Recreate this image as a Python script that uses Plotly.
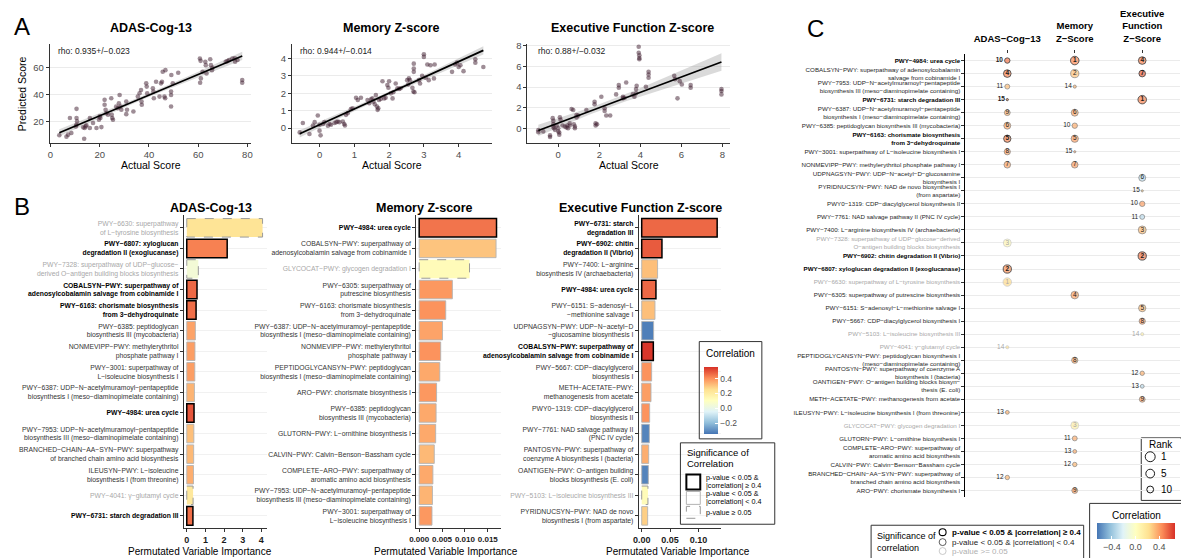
import numpy as np
import plotly.graph_objects as go

W, H = 1181, 558
FONT = "Liberation Sans"


def X(px):
    return px / W


def Y(py):
    return 1 - py / H


# ---------------- Panel A data (actual, predicted) ----------------
adas_points = [(3.6, 9.7), (6.5, 8.7), (7.2, 10.2), (8.5, 11.4), (7.9, 22.5), (10.6, 22.5), (10.8, 20.0), (10.6, 17.5),
               (10.6, 29.3), (10.3, 16.3), (13.3, 15.6), (13.9, 15.1), (14.3, 16.3), (14.6, 17.1), (13.7, 7.2),
               (16.0, 22.5), (16.0, 15.1), (17.3, 18.8), (18.7, 15.1), (19.7, 21.2), (20.0, 23.7), (20.3, 22.5),
               (20.7, 15.8), (22.0, 36.0), (22.0, 32.3), (22.4, 28.6), (22.7, 26.1), (23.4, 24.9), (24.7, 37.2),
               (24.9, 24.9), (25.1, 22.5), (25.4, 21.2), (26.7, 31.0), (27.4, 29.8), (27.8, 33.5), (28.1, 39.6),
               (28.4, 31.0), (28.8, 28.6), (30.8, 34.7), (31.1, 28.6), (30.8, 25.4), (33.7, 27.4), (35.5, 38.4),
               (36.2, 40.9), (36.8, 43.3), (37.0, 34.7), (37.1, 32.3), (38.9, 48.2), (39.1, 45.8), (39.3, 40.9),
               (41.6, 44.5), (41.8, 42.1), (42.0, 37.2), (42.9, 49.4), (44.3, 38.4), (44.9, 48.2), (45.3, 49.4),
               (46.3, 38.4), (46.6, 37.2), (49.0, 42.1), (49.0, 39.6), (49.0, 31.0), (49.1, 54.4), (49.7, 48.2),
               (45.6, 56.8), (46.7, 58.0), (51.9, 56.1), (60.7, 66.6), (61.0, 64.9), (61.1, 51.9), (60.8, 48.7),
               (61.8, 56.8), (62.9, 64.2), (63.1, 61.7), (63.4, 55.6), (64.9, 66.1), (65.2, 61.7), (65.6, 58.0),
               (65.8, 59.8), (71.2, 64.2), (71.9, 64.7), (72.6, 65.5), (73.9, 66.6), (74.9, 66.8), (75.0, 64.2),
               (76.0, 65.5), (77.9, 50.7), (77.9, 48.7)]

memory_points = [(-0.57, -0.25), (-0.48, 0.29), (-0.29, -0.34), (-0.19, 0.15), (-0.14, 0.34), (-0.05, 0.72),
                 (0.0, 0.19), (0.0, -0.15), (0.03, -0.42), (0.10, 0.23), (0.14, 0.34), (0.24, 0.13), (0.29, 0.23),
                 (0.33, 0.19), (0.43, 0.29), (0.48, 0.34), (0.52, 0.38), (0.57, 0.34), (0.67, 0.38), (0.71, 0.23),
                 (0.73, 0.15), (0.76, 0.76), (0.81, 0.86), (0.90, 1.09), (0.95, 1.14), (1.05, 1.75), (1.10, 1.62),
                 (1.19, 1.75), (1.38, 1.62), (1.43, 1.43), (1.48, 1.66), (1.52, 1.71), (1.55, 1.52), (1.59, 1.37),
                 (1.62, 1.90), (1.65, 1.24), (1.67, 1.05), (1.69, 1.14), (1.71, 1.62), (1.76, 1.68), (1.81, 2.70),
                 (1.86, 1.71), (1.90, 1.75), (1.95, 2.48), (1.98, 2.32), (2.0, 2.70), (2.05, 2.0), (2.10, 1.71),
                 (2.12, 2.06), (2.19, 2.57), (2.24, 2.29), (2.29, 2.25), (2.33, 2.29), (2.52, 2.76), (2.55, 2.51),
                 (2.57, 2.86), (2.60, 2.76), (2.67, 2.32), (2.70, 2.10), (2.71, 3.71), (2.71, 3.43), (2.71, 3.24),
                 (2.73, 2.06), (2.86, 2.76), (2.89, 2.57), (2.95, 3.01), (3.0, 4.25), (3.0, 4.10), (3.05, 2.90),
                 (3.10, 3.66), (3.14, 2.76), (3.19, 3.62), (3.29, 2.86), (3.31, 3.66), (3.81, 3.24), (3.90, 3.66),
                 (3.95, 3.77), (4.0, 3.52), (4.05, 3.62), (4.14, 3.28), (4.48, 3.96), (4.48, 3.77), (4.71, 3.52)]

executive_points = [(-0.97, -0.13), (-0.97, -0.32), (-0.73, -0.25), (-0.40, -0.63), (-0.40, -0.79), (-0.27, 1.02),
                    (-0.24, 0.76), (-0.24, 0.44), (-0.24, 0.22), (-0.21, 0.06), (-0.16, -0.10), (-0.08, 0.32),
                    (0.0, 0.06), (0.0, -0.25), (0.05, -0.35), (0.05, -0.57), (0.08, 1.11), (0.11, 0.86),
                    (0.21, 0.32), (0.32, 0.22), (0.40, 0.13), (0.44, 0.32), (0.48, 0.06), (0.56, 0.32),
                    (0.56, 0.54), (0.65, 1.90), (0.73, 1.81), (0.76, 0.44), (0.81, 0.22), (0.81, 0.06),
                    (0.89, 1.33), (0.89, 1.08), (0.97, 1.27), (1.37, 1.81), (1.77, 2.60), (1.77, 2.35),
                    (1.82, 0.54), (1.82, 0.32), (1.89, 0.44), (2.10, 3.08), (2.26, 1.97), (2.26, 1.71),
                    (2.34, 1.27), (2.53, 1.27), (2.82, 3.30), (2.95, 4.19), (2.95, 3.94), (3.15, 3.08),
                    (3.31, 4.44), (3.15, 2.92), (3.23, 2.98), (3.63, 3.30), (3.71, 3.08), (3.79, 3.40),
                    (3.79, 3.81), (3.82, 4.13), (3.92, 7.87), (3.92, 7.30), (3.95, 7.05), (3.95, 6.79),
                    (3.95, 6.67), (4.27, 4.03), (4.40, 5.46), (4.40, 5.21), (4.40, 4.89), (5.65, 5.08),
                    (5.69, 4.76), (5.81, 2.92), (5.92, 4.57), (6.02, 4.25), (6.45, 4.19), (6.45, 3.94),
                    (7.95, 3.81), (7.95, 3.62), (7.95, 3.30)]

a_titles = ["ADAS-Cog-13", "Memory Z-score", "Executive Function Z-score"]
a_rho = ["rho: 0.935+/−0.023", "rho: 0.944+/−0.014", "rho: 0.88+/−0.032"]
a_xticks = [[0, 20, 40, 60, 80], [0, 1, 2, 3, 4], [0, 2, 4, 6, 8]]
a_yticks = [[20, 40, 60], [0, 1, 2, 3, 4], [0, 2, 4, 6, 8]]

# ---------------- Panel B data ----------------
adas_ids = ["PWY-6630", "PWY-6807", "PWY-7328", "COBALSYN-PWY", "PWY-6163", "PWY-6385", "NONMEVIPP-PWY",
            "PWY-3001", "PWY-6387", "PWY-4984", "PWY-7953", "BRANCHED-CHAIN-AA-SYN-PWY", "ILEUSYN-PWY",
            "PWY-4041", "PWY-6731"]
adas_labels = ["PWY-6630: superpathway<br>of L-tyrosine biosynthesis",
               "PWY-6807: xyloglucan<br>degradation II (exoglucanase)",
               "PWY-7328: superpathway of UDP-glucose-<br>derived O-antigen building blocks biosynthesis",
               "COBALSYN-PWY: superpathway of<br>adenosylcobalamin salvage from cobinamide I",
               "PWY-6163: chorismate biosynthesis<br>from 3-dehydroquinate",
               "PWY-6385: peptidoglycan<br>biosynthesis III (mycobacteria)",
               "NONMEVIPP-PWY: methylerythritol<br>phosphate pathway I",
               "PWY-3001: superpathway of<br>L-isoleucine biosynthesis I",
               "PWY-6387: UDP-N-acetylmuramoyl-pentapeptide<br>biosynthesis I (meso-diaminopimelate containing)",
               "PWY-4984: urea cycle",
               "PWY-7953: UDP-N-acetylmuramoyl-pentapeptide<br>biosynthesis III (meso-diaminopimelate containing)",
               "BRANCHED-CHAIN-AA-SYN-PWY: superpathway<br>of branched chain amino acid biosynthesis",
               "ILEUSYN-PWY: L-isoleucine<br>biosynthesis I (from threonine)",
               "PWY-4041: γ-glutamyl cycle",
               "PWY-6731: starch degradation III"]
adas_importance = [4.07, 2.17, 0.62, 0.55, 0.50, 0.46, 0.44, 0.43, 0.41, 0.39, 0.38, 0.37, 0.36, 0.34, 0.33]
adas_corr = [0.23, 0.42, 0.04, 0.46, 0.45, 0.36, 0.37, 0.37, 0.33, 0.49, 0.31, 0.32, 0.34, 0.21, 0.45]
adas_sig = ["ns", "strong", "ns", "strong", "strong", "sig", "sig", "sig", "sig", "strong", "sig", "sig", "sig",
            "ns", "strong"]

memory_ids = ["PWY-4984", "COBALSYN-PWY", "GLYCOCAT-PWY", "PWY-6305", "PWY-6163", "PWY-6387", "NONMEVIPP-PWY",
              "PEPTIDOGLYCANSYN-PWY", "ARO-PWY", "PWY-6385", "GLUTORN-PWY", "CALVIN-PWY", "COMPLETE-ARO-PWY",
              "PWY-7953", "PWY-3001"]
memory_labels = ["PWY-4984: urea cycle",
                 "COBALSYN-PWY: superpathway of<br>adenosylcobalamin salvage from cobinamide I",
                 "GLYCOCAT-PWY: glycogen degradation I",
                 "PWY-6305: superpathway of<br>putrescine biosynthesis",
                 "PWY-6163: chorismate biosynthesis<br>from 3-dehydroquinate",
                 "PWY-6387: UDP-N-acetylmuramoyl-pentapeptide<br>biosynthesis I (meso-diaminopimelate containing)",
                 "NONMEVIPP-PWY: methylerythritol<br>phosphate pathway I",
                 "PEPTIDOGLYCANSYN-PWY: peptidoglycan<br>biosynthesis I (meso-diaminopimelate containing)",
                 "ARO-PWY: chorismate biosynthesis I",
                 "PWY-6385: peptidoglycan<br>biosynthesis III (mycobacteria)",
                 "GLUTORN-PWY: L-ornithine biosynthesis I",
                 "CALVIN-PWY: Calvin-Benson-Bassham cycle",
                 "COMPLETE-ARO-PWY: superpathway of<br>aromatic amino acid biosynthesis",
                 "PWY-7953: UDP-N-acetylmuramoyl-pentapeptide<br>biosynthesis III (meso-diaminopimelate containing)",
                 "PWY-3001: superpathway of<br>L-isoleucine biosynthesis I"]
memory_importance = [0.0169, 0.0168, 0.0110, 0.00725, 0.0058, 0.0051, 0.0047, 0.0045, 0.0038, 0.0037, 0.0036,
                     0.0033, 0.0030, 0.0029, 0.0028]
memory_corr = [0.44, 0.30, 0.12, 0.38, 0.39, 0.36, 0.39, 0.35, 0.38, 0.35, 0.35, 0.32, 0.35, 0.33, 0.38]
memory_sig = ["strong", "sig", "ns", "sig", "sig", "sig", "sig", "sig", "sig", "sig", "sig", "sig", "sig", "sig",
              "sig"]

executive_ids = ["PWY-6731", "PWY-6902", "PWY-7400", "PWY-4984", "PWY-6151", "UDPNAGSYN-PWY", "COBALSYN-PWY",
                 "PWY-5667", "METH-ACETATE-PWY", "PWY0-1319", "PWY-7761", "PANTOSYN-PWY", "OANTIGEN-PWY",
                 "PWY-5103", "PYRIDNUCSYN-PWY"]
executive_labels = ["PWY-6731: starch<br>degradation III",
                    "PWY-6902: chitin<br>degradation II (Vibrio)",
                    "PWY-7400: L-arginine<br>biosynthesis IV (archaebacteria)",
                    "PWY-4984: urea cycle",
                    "PWY-6151: S-adenosyl-L<br>-methionine salvage I",
                    "UDPNAGSYN-PWY: UDP-N-acetyl-D<br>-glucosamine biosynthesis I",
                    "COBALSYN-PWY: superpathway of<br>adenosylcobalamin salvage from cobinamide I",
                    "PWY-5667: CDP-diacylglycerol<br>biosynthesis I",
                    "METH-ACETATE-PWY:<br>methanogenesis from acetate",
                    "PWY0-1319: CDP-diacylglycerol<br>biosynthesis II",
                    "PWY-7761: NAD salvage pathway II<br>(PNC IV cycle)",
                    "PANTOSYN-PWY: superpathway of<br>coenzyme A biosynthesis I (bacteria)",
                    "OANTIGEN-PWY: O-antigen building<br>blocks biosynthesis (E. coli)",
                    "PWY-5103: L-isoleucine biosynthesis III",
                    "PYRIDNUCSYN-PWY: NAD de novo<br>biosynthesis I (from aspartate)"]
executive_importance = [0.133, 0.0357, 0.028, 0.0251, 0.0234, 0.021, 0.0205, 0.0175, 0.0164, 0.014, 0.0135,
                        0.0123, 0.0117, 0.011, 0.0105]
executive_corr = [0.46, 0.48, 0.31, 0.46, 0.31, -0.33, 0.54, 0.39, 0.37, 0.39, -0.32, 0.34, -0.32, 0.12, 0.28]
executive_sig = ["strong", "strong", "sig", "strong", "sig", "sig", "strong", "sig", "sig", "sig", "sig", "sig",
                 "sig", "ns", "sig"]

b_titles = ["ADAS-Cog-13", "Memory Z-score", "Executive Function Z-score"]
b_xticks = [[0, 1, 2, 3, 4], [0, 0.005, 0.010, 0.015], [0, 0.05, 0.10]]
b_xticktext = [["0", "1", "2", "3", "4"], ["0.000", "0.005", "0.010", "0.015"], ["0.00", "0.05", "0.10"]]

# ---------------- Panel C data ----------------
c_rows = ["PWY-4984", "COBALSYN-PWY", "PWY-7953", "PWY-6731", "PWY-6387", "PWY-6385", "PWY-6163", "PWY-3001",
          "NONMEVIPP-PWY", "UDPNAGSYN-PWY", "PYRIDNUCSYN-PWY", "PWY0-1319", "PWY-7761", "PWY-7400", "PWY-7328",
          "PWY-6902", "PWY-6807", "PWY-6630", "PWY-6305", "PWY-6151", "PWY-5667", "PWY-5103", "PWY-4041",
          "PEPTIDOGLYCANSYN-PWY", "PANTOSYN-PWY", "OANTIGEN-PWY", "METH-ACETATE-PWY", "ILEUSYN-PWY",
          "GLYCOCAT-PWY", "GLUTORN-PWY", "COMPLETE-ARO-PWY", "CALVIN-PWY", "BRANCHED-CHAIN-AA-SYN-PWY", "ARO-PWY"]
c_labels = ["PWY-4984: urea cycle",
            "COBALSYN-PWY: superpathway of adenosylcobalamin<br>salvage from cobinamide I",
            "PWY-7953: UDP-N-acetylmuramoyl-pentapeptide<br>biosynthesis III (meso-diaminopimelate containing)",
            "PWY-6731: starch degradation III",
            "PWY-6387: UDP-N-acetylmuramoyl-pentapeptide<br>biosynthesis I (meso-diaminopimelate containing)",
            "PWY-6385: peptidoglycan biosynthesis III (mycobacteria)",
            "PWY-6163: chorismate biosynthesis<br>from 3-dehydroquinate",
            "PWY-3001: superpathway of L-isoleucine biosynthesis I",
            "NONMEVIPP-PWY: methylerythritol phosphate pathway I",
            "UDPNAGSYN-PWY: UDP-N-acetyl-D-glucosamine<br>biosynthesis I",
            "PYRIDNUCSYN-PWY: NAD de novo biosynthesis I<br>(from aspartate)",
            "PWY0-1319: CDP-diacylglycerol biosynthesis II",
            "PWY-7761: NAD salvage pathway II (PNC IV cycle)",
            "PWY-7400: L-arginine biosynthesis IV (archaebacteria)",
            "PWY-7328: superpathway of UDP-glucose-derived<br>O-antigen building blocks biosynthesis",
            "PWY-6902: chitin degradation II (Vibrio)",
            "PWY-6807: xyloglucan degradation II (exoglucanase)",
            "PWY-6630: superpathway of L-tyrosine biosynthesis",
            "PWY-6305: superpathway of putrescine biosynthesis",
            "PWY-6151: S-adenosyl-L-methionine salvage I",
            "PWY-5667: CDP-diacylglycerol biosynthesis I",
            "PWY-5103: L-isoleucine biosynthesis III",
            "PWY-4041: γ-glutamyl cycle",
            "PEPTIDOGLYCANSYN-PWY: peptidoglycan biosynthesis I<br>(meso-diaminopimelate containing)",
            "PANTOSYN-PWY: superpathway of coenzyme A<br>biosynthesis I (bacteria)",
            "OANTIGEN-PWY: O-antigen building blocks biosyn-<br>thesis (E. coli)",
            "METH-ACETATE-PWY: methanogenesis from acetate",
            "ILEUSYN-PWY: L-isoleucine biosynthesis I (from threonine)",
            "GLYCOCAT-PWY: glycogen degradation I",
            "GLUTORN-PWY: L-ornithine biosynthesis I",
            "COMPLETE-ARO-PWY: superpathway of<br>aromatic amino acid biosynthesis",
            "CALVIN-PWY: Calvin-Benson-Bassham cycle",
            "BRANCHED-CHAIN-AA-SYN-PWY: superpathway of<br>branched chain amino acid biosynthesis",
            "ARO-PWY: chorismate biosynthesis I"]
c_label_style = ["strong", "sig", "sig", "strong", "sig", "sig", "strong", "sig", "sig", "sig", "sig", "sig", "sig",
                 "sig", "ns", "strong", "strong", "ns", "sig", "sig", "sig", "ns", "ns", "sig", "sig", "sig", "sig",
                 "sig", "ns", "sig", "sig", "sig", "sig", "sig"]
c_columns = ["ADAS−Cog−13", "Memory<br>Z−Score", "Executive<br>Function<br>Z−Score"]
rank_legend = [1, 5, 10]

# ---------------- styling helpers ----------------
RDYLBU = [[0, "#4575b4"], [1 / 6, "#91bfdb"], [2 / 6, "#e0f3f8"], [3 / 6, "#ffffbf"],
          [4 / 6, "#fee090"], [5 / 6, "#fc8d59"], [1, "#d73027"]]


def minus(s):
    return s.replace("-", "−")


def styled(text, sig, normal_color="#333333"):
    lines = minus(text).split("<br>")
    if sig == "strong":
        return "<br>".join("<b><span style='color:#000000'>%s</span></b>" % l for l in lines)
    if sig == "ns":
        return "<br>".join("<span style='color:#a8a8a8'>%s</span>" % l for l in lines)
    return "<br>".join("<span style='color:%s'>%s</span>" % (normal_color, l) for l in lines)


def rank_size(r):
    return 2.2 * np.sqrt(16 - r)


fig = go.Figure()
layout = dict(width=W, height=H, margin=dict(l=0, r=0, t=0, b=0), paper_bgcolor="white", plot_bgcolor="white",
              showlegend=False, font=dict(family=FONT, color="#1a1a1a"))
annotations = []
shapes = []


def ann(px, py, text, size, xanchor="left", yanchor="middle", color="#000000", angle=0, align="left"):
    annotations.append(dict(x=X(px), y=Y(py), xref="paper", yref="paper", text=text, showarrow=False,
                            xanchor=xanchor, yanchor=yanchor, align=align, textangle=angle,
                            font=dict(size=size, color=color, family=FONT)))


def sfx(n):
    return "" if n == 1 else str(n)


# ---------------- Panel A ----------------
a_geom = [(43, 246, [-0.3, 81.6], [4.0, 77.6]),
          (287, 488, [-0.79, 4.95], [-0.86, 4.86]),
          (524, 728, [-1.5, 8.37], [-1.36, 8.16])]
for k, pts in enumerate([adas_points, memory_points, executive_points]):
    n = k + 1
    xa, ya = "x" + sfx(n), "y" + sfx(n)
    x = np.array([p[0] for p in pts])
    y = np.array([p[1] for p in pts])
    b, a = np.polyfit(x, y, 1)
    xs = np.linspace(x.min(), x.max(), 60)
    yh = a + b * xs
    s = np.sqrt(((y - (a + b * x)) ** 2).sum() / (len(x) - 2))
    se = s * np.sqrt(1 / len(x) + (xs - x.mean()) ** 2 / ((x - x.mean()) ** 2).sum())
    fig.add_trace(go.Scatter(x=np.concatenate([xs, xs[::-1]]), y=np.concatenate([yh + 1.99 * se, (yh - 1.99 * se)[::-1]]),
                             fill="toself", fillcolor="rgba(150,150,150,0.35)", line=dict(width=0), mode="lines",
                             xaxis=xa, yaxis=ya, hoverinfo="skip"))
    fig.add_trace(go.Scatter(x=x, y=y, mode="markers", marker=dict(size=4.6, color="rgba(62,28,45,0.5)"),
                             xaxis=xa, yaxis=ya))
    fig.add_trace(go.Scatter(x=xs, y=yh, mode="lines", line=dict(color="black", width=1.7), xaxis=xa, yaxis=ya))
    x0, x1, xr, yr = a_geom[k]
    layout["xaxis" + sfx(n)] = dict(domain=[X(x0), X(x1)], range=xr, anchor=ya, tickvals=a_xticks[k],
                                    showline=True, linecolor="#333333", linewidth=1, ticks="outside", ticklen=3,
                                    tickcolor="#333333", tickfont=dict(size=9.5, color="#4d4d4d"), tickangle=0,
                                    showgrid=False, zeroline=False)
    layout["yaxis" + sfx(n)] = dict(domain=[Y(140), Y(40)], range=yr, anchor=xa, tickvals=a_yticks[k],
                                    showline=True, linecolor="#333333", linewidth=1, ticks="outside", ticklen=3,
                                    tickcolor="#333333", tickfont=dict(size=9.5, color="#4d4d4d"),
                                    showgrid=True, gridcolor="#ebebeb", gridwidth=1, zeroline=False)
    ann((x0 + x1) / 2 + (4 if k == 2 else 0), 24, "<b>%s</b>" % a_titles[k], 12.5, xanchor="center")
    ann((x0 + x1) / 2, 162, "Actual Score", 10.5, xanchor="center")
    ann(x0 + 6 if k < 2 else x0 + 9, 47, a_rho[k], 8.5, color="#1a1a1a")
ann(15, 90, "Predicted Score", 10.5, xanchor="center", angle=-90)

# ---------------- Panel B ----------------
b_geom = [(178, 262, [-0.16, 4.32], 205, 194),
          (412, 497, [-0.00065, 0.0178], 420, 442),
          (636, 719, [-0.0053, 0.140], 638, 676)]
b_sets = [(adas_labels, adas_importance, adas_corr, adas_sig),
          (memory_labels, memory_importance, memory_corr, memory_sig),
          (executive_labels, executive_importance, executive_corr, executive_sig)]
for k, (labels, vals, corr, sig) in enumerate(b_sets):
    n = k + 4
    xa, ya = "x" + sfx(n), "y" + sfx(n)
    pos = list(range(len(vals)))
    lcol = ["#000000" if s == "strong" else ("#b3b3b3" if s == "sig" else "rgba(0,0,0,0)") for s in sig]
    lwid = [1.5 if s == "strong" else (0.9 if s == "sig" else 0) for s in sig]
    fig.add_trace(go.Bar(y=pos, x=vals, orientation="h", width=0.9, xaxis=xa, yaxis=ya,
                         marker=dict(color=corr, coloraxis="coloraxis", line=dict(color=lcol, width=lwid))))
    for i, (v, s) in enumerate(zip(vals, sig)):
        if s == "ns":
            shapes.append(dict(type="rect", xref=xa, yref=ya, x0=0, x1=v, y0=i - 0.45, y1=i + 0.45,
                               line=dict(color="#9a9a9a", width=1, dash="dash"), fillcolor="rgba(0,0,0,0)",
                               layer="above"))
    x0, x1, xr, tx, atx = b_geom[k]
    layout["xaxis" + sfx(n)] = dict(domain=[X(x0), X(x1)], range=xr, anchor=ya, tickvals=b_xticks[k],
                                    ticktext=b_xticktext[k], showline=True, linecolor="#333333", linewidth=1,
                                    ticks="outside", ticklen=3, tickcolor="#333333", tickangle=0,
                                    tickfont=dict(size=8 if k == 1 else 9, color="#1a1a1a", weight="bold"),
                                    showgrid=False, zeroline=False)
    layout["yaxis" + sfx(n)] = dict(domain=[Y(528), Y(213)], range=[len(vals) - 0.4, -0.6], anchor=xa,
                                    tickvals=pos, ticktext=[styled(l, s) for l, s in zip(labels, sig)],
                                    showline=True, linecolor="#333333", linewidth=1, ticks="outside", ticklen=3,
                                    tickcolor="#333333", tickfont=dict(size=6.8, family=FONT),
                                    showgrid=True, gridcolor="#f1f1f1", zeroline=False)
    ann(tx, 205, "<b>%s</b>" % b_titles[k], 12.5, xanchor="center")
    ann(atx, 551, "Permutated Variable Importance", 10, xanchor="center")

layout["coloraxis"] = dict(colorscale=RDYLBU, cmin=-0.35, cmax=0.55,
                           colorbar=dict(x=X(702), xanchor="left", y=Y(366), yanchor="top", len=67 / H,
                                         lenmode="fraction", thickness=14, thicknessmode="pixels", xpad=0, ypad=0,
                                         outlinewidth=0, tickvals=[-0.2, 0, 0.2, 0.4],
                                         ticktext=["−0.2", "0.0", "0.2", "0.4"], ticks="inside", ticklen=3,
                                         tickcolor="white", tickfont=dict(size=8.5, color="#4d4d4d")))
shapes.append(dict(type="rect", xref="paper", yref="paper", x0=X(697), x1=X(760), y0=Y(438), y1=Y(340),
                   line=dict(color="#333333", width=1)))
ann(702, 352, "Correlation", 10)

# significance legend B
shapes.append(dict(type="rect", xref="paper", yref="paper", x0=X(678), x1=X(773), y0=Y(524), y1=Y(442),
                   line=dict(color="#333333", width=1)))
ann(683, 452, "Significance of", 9.5)
ann(683, 463, "Correlation", 9.5)
b_keys = [(474, 489, "#000000", 2, "solid"), (491, 504, "#b3b3b3", 1, "solid"), (506, 518, "#9a9a9a", 1, "dash")]
for (t, bt, col, w, dash) in b_keys:
    shapes.append(dict(type="rect", xref="paper", yref="paper", x0=X(684), x1=X(698), y0=Y(bt), y1=Y(t),
                       line=dict(color=col, width=w, dash=dash)))
ann(702, 477, "p-value < 0.05 &", 7.2)
ann(702, 485, "|correlation| ≥ 0.4", 7.2)
ann(702, 493, "p-value < 0.05 &", 7.2)
ann(702, 501, "|correlation| < 0.4", 7.2)
ann(702, 512, "p-value ≥ 0.05", 7.2)

# ---------------- Panel C ----------------
cx, cy, ccol, csize, ctext, cpos, cline, clw, ctc = [], [], [], [], [], [], [], [], []
for j, (ids, corr, sig) in enumerate([(adas_ids, adas_corr, adas_sig), (memory_ids, memory_corr, memory_sig),
                                       (executive_ids, executive_corr, executive_sig)]):
    for r, pid in enumerate(ids):
        rank = r + 1
        cx.append(j)
        cy.append(c_rows.index(pid))
        ccol.append(corr[r])
        csize.append(rank_size(rank))
        s = sig[r]
        lab = str(rank)
        if s == "strong":
            lab = "<b>%s</b>" % lab
        ctext.append(lab)
        cpos.append("middle center" if rank < 10 else "middle left")
        cline.append("#000000" if s == "strong" else ("#4d4d4d" if s == "sig" else "#bdbdbd"))
        clw.append(0.9 if s == "strong" else (0.7 if s == "sig" else 0.8))
        ctc.append("#1a1a1a" if s != "ns" else "#a8a8a8")
fig.add_trace(go.Scatter(x=cx, y=cy, mode="markers+text", text=ctext, textposition=cpos,
                         textfont=dict(size=6.5, color=ctc, family=FONT), xaxis="x7", yaxis="y7",
                         marker=dict(size=csize, color=ccol, coloraxis="coloraxis2",
                                     line=dict(color=cline, width=clw))))
layout["xaxis7"] = dict(domain=[X(965), 1.0], range=[-0.62, 2.56], anchor="y7", side="top", tickvals=[0, 1, 2],
                        ticktext=["<b>%s</b>" % c for c in c_columns], tickfont=dict(size=9.5, color="#000000"),
                        ticks="outside", ticklen=3, tickcolor="#333333", showline=False, showgrid=False,
                        zeroline=False, tickangle=0, ticklabelstandoff=4)
layout["yaxis7"] = dict(domain=[Y(497), Y(50)], range=[33.53, -0.53], anchor="x7", tickvals=list(range(len(c_rows))),
                        ticktext=[styled(l, s, "#262626") for l, s in zip(c_labels, c_label_style)],
                        tickfont=dict(size=6.2, family=FONT), showline=True, linecolor="#000000", linewidth=1,
                        ticks="outside", ticklen=3, tickcolor="#333333", showgrid=True, gridcolor="#ebebeb",
                        gridwidth=1, zeroline=False)

layout["coloraxis2"] = dict(colorscale=RDYLBU, cmin=-0.66, cmax=0.66,
                            colorbar=dict(orientation="h", x=X(1097), xanchor="left", y=Y(523), yanchor="top",
                                          len=79 / W, lenmode="fraction", thickness=16, thicknessmode="pixels",
                                          xpad=0, ypad=0, outlinewidth=0, tickvals=[-0.4, 0, 0.4],
                                          ticktext=["−0.4", "0.0", "0.4"], ticks="inside", ticklen=3,
                                          tickcolor="white", tickfont=dict(size=9, color="#4d4d4d")))
shapes.append(dict(type="rect", xref="paper", yref="paper", x0=X(1090), x1=X(1186), y0=Y(563), y1=Y(503),
                   line=dict(color="#333333", width=1), fillcolor="rgba(255,255,255,0)"))
ann(1137, 515, "Correlation", 10, xanchor="center")

# Rank legend
shapes.append(dict(type="rect", xref="paper", yref="paper", x0=X(1142), x1=X(1186), y0=Y(500), y1=Y(437),
                   line=dict(color="#333333", width=1), fillcolor="white", layer="below"))
ann(1148, 444, "Rank", 10)
for r, yy in zip(rank_legend, [456, 473, 489]):
    d = rank_size(r) + 1.5
    shapes.append(dict(type="circle", xref="paper", yref="paper", x0=X(1151 - d / 2), x1=X(1151 + d / 2),
                       y0=Y(yy + d / 2), y1=Y(yy - d / 2), line=dict(color="#000000", width=0.9)))
    ann(1160, yy, str(r), 10)

# Significance legend C
shapes.append(dict(type="rect", xref="paper", yref="paper", x0=X(870), x1=X(1084), y0=Y(563), y1=Y(525),
                   line=dict(color="#333333", width=1)))
ann(874, 536, "Significance of", 9)
ann(874, 548, "correlation", 9)
for yy, col, w in [(532, "#000000", 1.1), (542, "#333333", 0.8), (551, "#bdbdbd", 0.8)]:
    shapes.append(dict(type="circle", xref="paper", yref="paper", x0=X(938.5), x1=X(945.5), y0=Y(yy + 3.5),
                       y1=Y(yy - 3.5), line=dict(color=col, width=w)))
ann(949, 532, "<b>p-value < 0.05 & |correlation| ≥ 0.4</b>", 8)
ann(949, 542, "p-value < 0.05 & |correlation| < 0.4", 8, color="#1a1a1a")
ann(949, 551, "p-value >= 0.05", 8, color="#b0b0b0")

# panel letters
ann(5, 23, "A", 24)
ann(5, 204, "B", 24)
ann(803, 25, "C", 24)

layout["annotations"] = annotations
layout["shapes"] = shapes
fig.update_layout(**layout)
fig.write_html("out.html", config={"displayModeBar": False},
               post_script="document.body.style.margin='0px';document.body.style.overflow='hidden';")
